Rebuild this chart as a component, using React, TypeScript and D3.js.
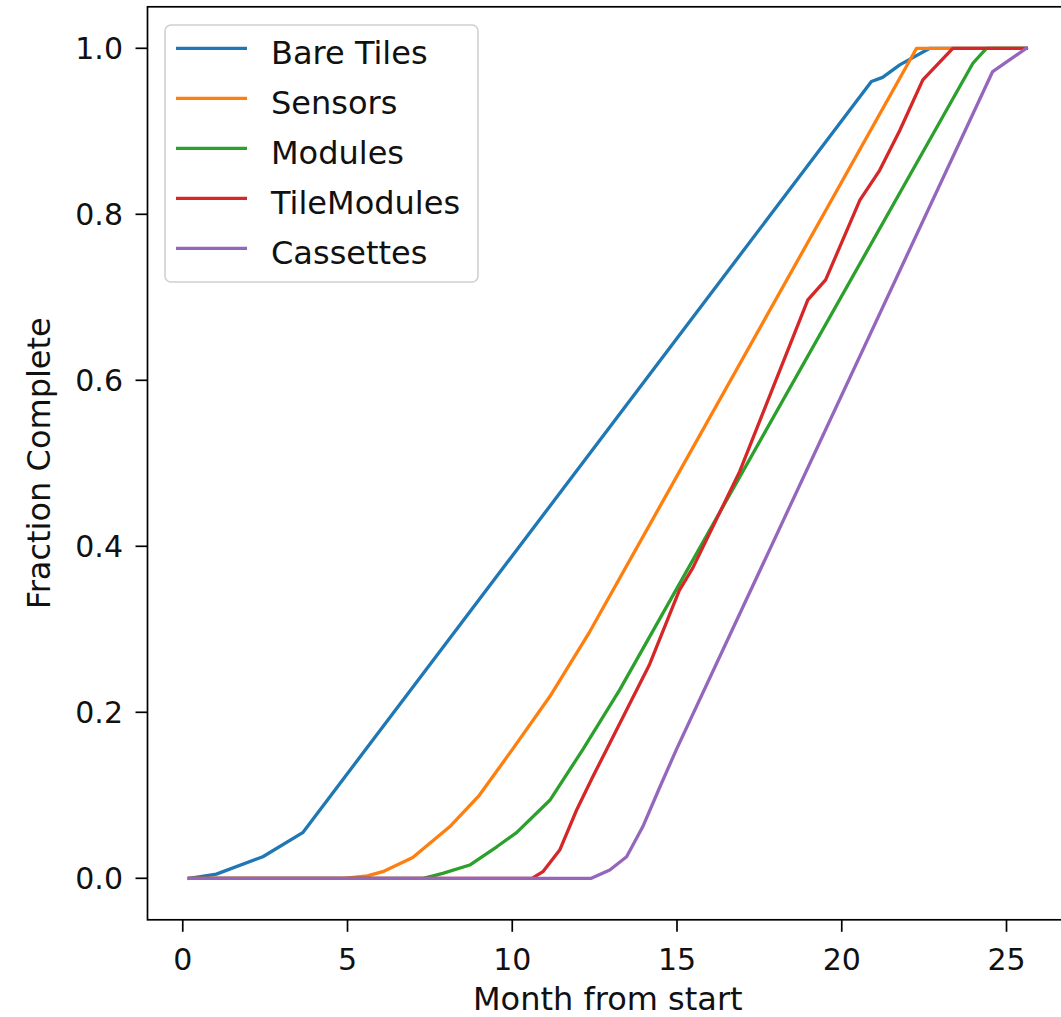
import React from "react";
import * as d3 from "d3";

const seriesNames = ["Bare Tiles", "Sensors", "Modules", "TileModules", "Cassettes"];
const colors = ["#1f77b4", "#ff7f0e", "#2ca02c", "#d62728", "#9467bd"];

const bareTilesX = [0.2, 1.02, 2.43, 3.64, 20.9, 21.24, 21.76, 22.67, 25.6];
const bareTilesY = [0.0, 0.005, 0.026, 0.055, 0.96, 0.965, 0.98, 1.0, 1.0];

const sensorsX = [0.2, 4.9, 5.6, 6.07, 6.98, 8.1, 9.0, 10.0, 11.14, 12.35, 22.27, 25.6];
const sensorsY = [0.0, 0.0, 0.003, 0.008, 0.025, 0.062, 0.1, 0.155, 0.219, 0.297, 1.0, 1.0];

const modulesX = [0.2, 7.3, 7.89, 8.71, 9.53, 10.13, 11.14, 12.14, 13.26, 23.98, 24.39, 25.6];
const modulesY = [0.0, 0.0, 0.006, 0.016, 0.038, 0.055, 0.094, 0.155, 0.227, 0.982, 1.0, 1.0];

const tileModulesX = [0.2, 10.6, 10.93, 11.44, 11.95, 12.44, 12.86, 14.17, 15.07, 15.48, 16.9, 18.97, 19.51, 20.55, 21.15, 21.76, 22.46, 23.37, 25.6];
const tileModulesY = [0.0, 0.0, 0.008, 0.034, 0.082, 0.122, 0.155, 0.258, 0.347, 0.374, 0.49, 0.697, 0.721, 0.817, 0.853, 0.901, 0.962, 1.0, 1.0];

const cassettesX = [0.2, 12.4, 12.96, 13.47, 13.96, 14.48, 14.98, 24.58, 25.6];
const cassettesY = [0.0, 0.0, 0.01, 0.026, 0.062, 0.11, 0.155, 0.972, 1.0];

const xTicks = [0, 5, 10, 15, 20, 25];
const yTicks = [0.0, 0.2, 0.4, 0.6, 0.8, 1.0];

const allX = [bareTilesX, sensorsX, modulesX, tileModulesX, cassettesX];
const allY = [bareTilesY, sensorsY, modulesY, tileModulesY, cassettesY];

const W = 1061;
const H = 1017;

export default function App() {
  const xsFlat = allX.flat();
  const xMinD = d3.min(xsFlat) as number;
  const xMaxD = d3.max(xsFlat) as number;
  const xSpan = xMaxD - xMinD;
  const xlo = xMinD - 0.05 * xSpan;
  const xhi = xMaxD + 0.05 * xSpan;
  const pxPerUnit = 32.95;
  const left = 147.5;
  const right = left + (xhi - xlo) * pxPerUnit;
  const top = 6.8;
  const bottom = 919.8;

  const x = d3.scaleLinear().domain([xlo, xhi]).range([left, right]);
  const y = d3.scaleLinear().domain([-0.05, 1.05]).range([bottom, top]);

  const line = d3
    .line<[number, number]>()
    .x((d) => x(d[0]))
    .y((d) => y(d[1]));

  const font = "DejaVu Sans, sans-serif";
  const tickFont = 30;
  const labelFont = 32;
  const textColor = "#111";

  const legendX = 165;
  const legendY = 25;
  const legendW = 313;
  const legendH = 257;

  return (
    <svg
      width={W}
      height={H}
      style={{ position: "absolute", left: 0, top: 0, background: "#fff" }}
      fontFamily={font}
    >
      <rect x={0} y={0} width={W} height={H} fill="#fff" />
      <defs>
        <clipPath id="plotclip">
          <rect x={left} y={top} width={right - left} height={bottom - top} />
        </clipPath>
      </defs>
      <g clipPath="url(#plotclip)">
        {allX.map((xs, i) => (
          <path
            key={seriesNames[i]}
            d={line(xs.map((v, j) => [v, allY[i][j]]) as [number, number][]) || ""}
            fill="none"
            stroke={colors[i]}
            strokeWidth={3.3}
            strokeLinejoin="round"
            strokeLinecap="square"
          />
        ))}
      </g>
      <rect
        x={left}
        y={top}
        width={right - left}
        height={bottom - top}
        fill="none"
        stroke="#000"
        strokeWidth={1.7}
      />
      {xTicks.map((t) => (
        <g key={"xt" + t}>
          <line x1={x(t)} x2={x(t)} y1={bottom} y2={bottom + 12} stroke="#000" strokeWidth={1.7} />
          <text x={x(t)} y={970} textAnchor="middle" fontSize={tickFont} fill={textColor}>
            {t}
          </text>
        </g>
      ))}
      {yTicks.map((t) => (
        <g key={"yt" + t}>
          <line x1={left - 12} x2={left} y1={y(t)} y2={y(t)} stroke="#000" strokeWidth={1.7} />
          <text x={123} y={y(t) + 11} textAnchor="end" fontSize={tickFont} fill={textColor}>
            {t.toFixed(1)}
          </text>
        </g>
      ))}
      <text x={(left + right) / 2} y={1010} textAnchor="middle" fontSize={labelFont} fill={textColor}>
        Month from start
      </text>
      <text
        transform={`translate(50, ${(top + bottom) / 2}) rotate(-90)`}
        textAnchor="middle"
        fontSize={labelFont}
        fill={textColor}
      >
        Fraction Complete
      </text>
      <rect
        x={legendX}
        y={legendY}
        width={legendW}
        height={legendH}
        rx={6}
        ry={6}
        fill="#fff"
        fillOpacity={0.8}
        stroke="#d0d0d0"
        strokeWidth={1.6}
      />
      {seriesNames.map((name, i) => {
        const cy = 48.3 + i * 50;
        return (
          <g key={"lg" + name}>
            <line x1={176} x2={247} y1={cy} y2={cy} stroke={colors[i]} strokeWidth={3.3} />
            <text x={271} y={cy + 16} fontSize={labelFont} fill={textColor}>
              {name}
            </text>
          </g>
        );
      })}
    </svg>
  );
}
